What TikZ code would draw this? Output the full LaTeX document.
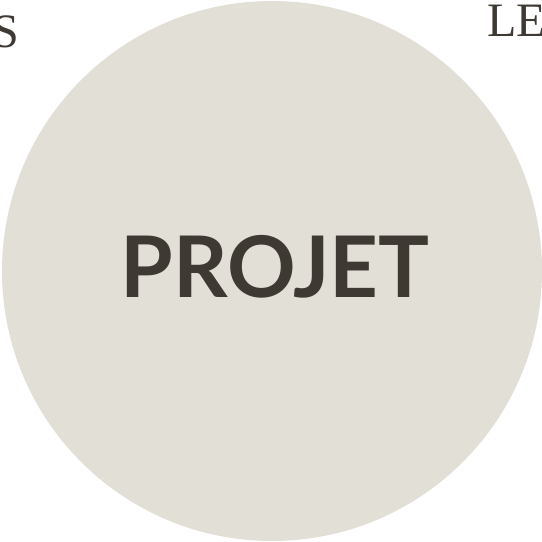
\documentclass[tikz,border=0pt]{standalone}
\usepackage{fontspec}
\setmainfont{Liberation Serif}
\newfontfamily\labelfont{Lato}
\definecolor{circlefill}{HTML}{E2DFD7}
\definecolor{inkdark}{HTML}{3E3A33}
\tikzset{
  bigcircle/.style={circle, fill=circlefill, draw=none, minimum size=540pt, inner sep=0pt},
  centertitle/.style={anchor=base, inner sep=0pt, text=inkdark, font=\labelfont\bfseries\fontsize{85}{85}\selectfont},
  sidetitle/.style={anchor=base west, inner sep=0pt, text=inkdark, font=\fontsize{48}{48}\selectfont}
}
\begin{document}
\begin{tikzpicture}[x=1pt, y=1pt]
% Page frame
\useasboundingbox (0,0) rectangle (542,542);
\clip (0,0) rectangle (542,542);

% Circle and its title
\node[bigcircle] (projet) at (272,271) {};
\node[centertitle] (titre) at (275,244) {PROJET};

% Words cut by the page edge
\node[sidetitle] (gauche) at (-8,494) {S};
\node[sidetitle] (droite) at (487,505) {LE};
\end{tikzpicture}
\end{document}
